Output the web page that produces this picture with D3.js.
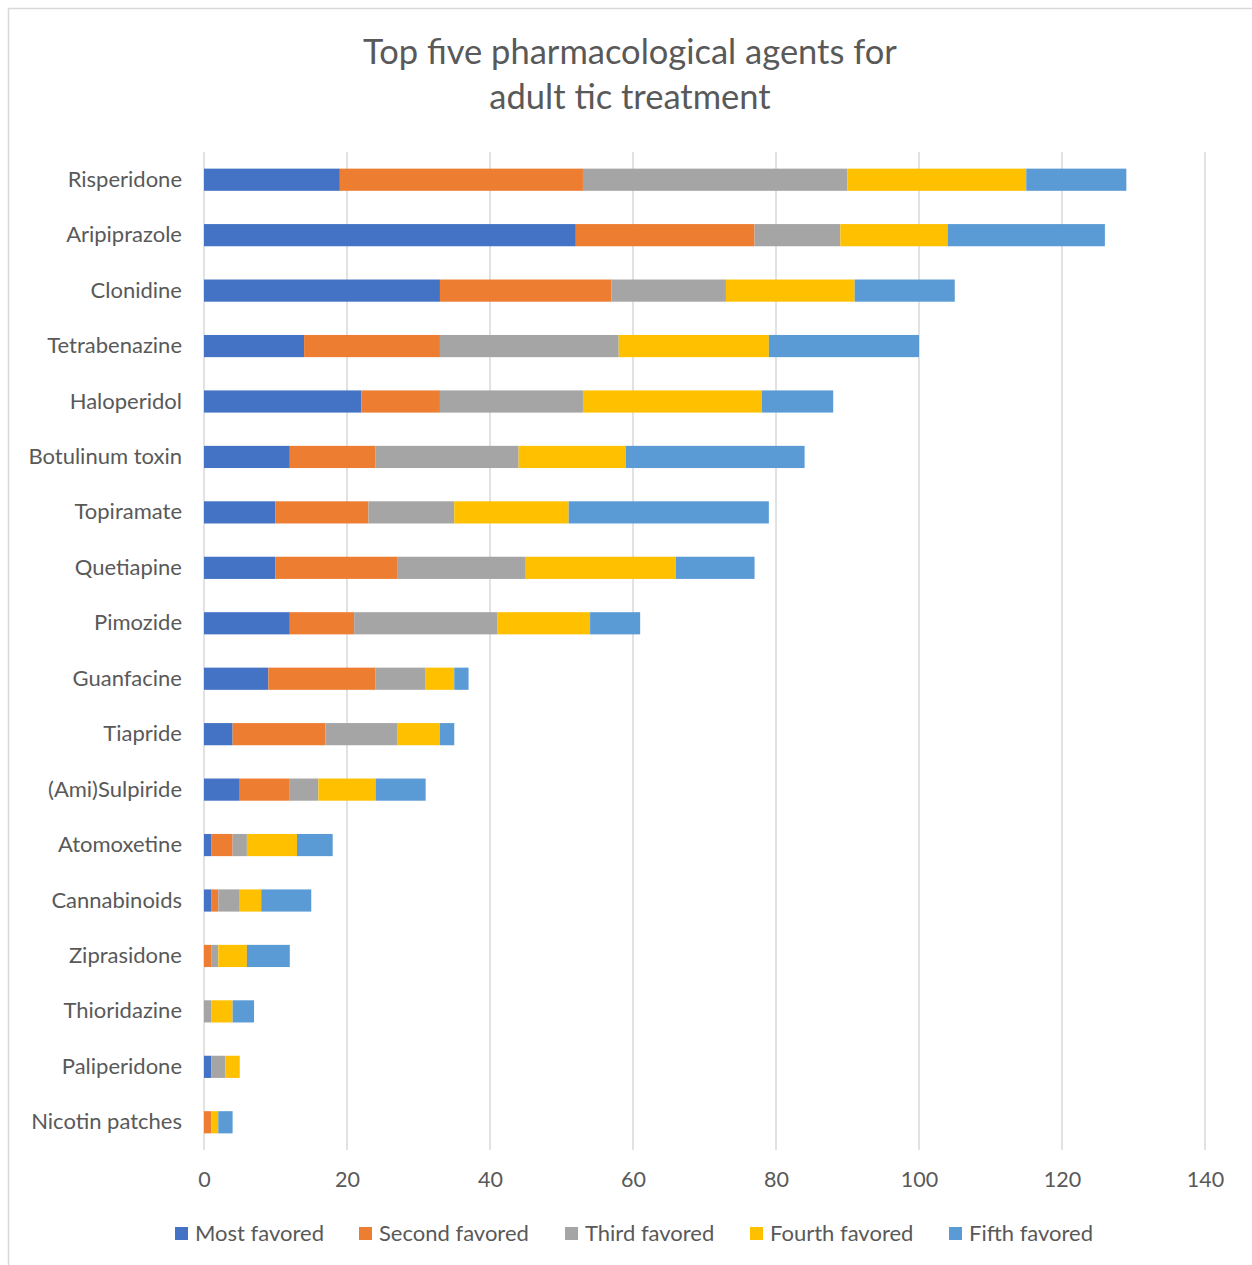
<!DOCTYPE html>
<html>
<head>
<meta charset="utf-8">
<script src="https://cdn.jsdelivr.net/npm/d3@7"></script>
<style>
  html, body { margin: 0; padding: 0; background: #fff; }
  svg { display: block; }
</style>
</head>
<body>
<svg id="chart" width="1252" height="1265"></svg>
<script>
const categories = ["Risperidone","Aripiprazole","Clonidine","Tetrabenazine","Haloperidol","Botulinum toxin","Topiramate","Quetiapine","Pimozide","Guanfacine","Tiapride","(Ami)Sulpiride","Atomoxetine","Cannabinoids","Ziprasidone","Thioridazine","Paliperidone","Nicotin patches"];
const seriesNames = ["Most favored","Second favored","Third favored","Fourth favored","Fifth favored"];
const mostFavored   = [19,52,33,14,22,12,10,10,12, 9, 4,5,1,1,0,0,1,0];
const secondFavored = [34,25,24,19,11,12,13,17, 9,15,13,7,3,1,1,0,0,1];
const thirdFavored  = [37,12,16,25,20,20,12,18,20, 7,10,4,2,3,1,1,2,0];
const fourthFavored = [25,15,18,21,25,15,16,21,13, 4, 6,8,7,3,4,3,2,1];
const fifthFavored  = [14,22,14,21,10,25,28,11, 7, 2, 2,7,5,7,6,3,0,2];
const xTicks = [0,20,40,60,80,100,120,140];
const colors = ["#4472C4","#ED7D31","#A5A5A5","#FFC000","#5B9BD5"];

(function () {
const seriesValues = [mostFavored, secondFavored, thirdFavored, fourthFavored, fifthFavored];
const table = categories.map((c, i) => {
  const row = { name: c };
  seriesNames.forEach((s, j) => row[s] = seriesValues[j][i]);
  return row;
});
const stacked = d3.stack().keys(seriesNames)(table);

const svg = d3.select("#chart");
const font = "Lato, 'Open Sans', sans-serif";

// outer chart border
svg.append("rect").attr("x", 8.5).attr("y", 8.5).attr("width", 1260).attr("height", 1270)
  .attr("fill", "none").attr("stroke", "#d9d9d9").attr("stroke-width", 1.5);

const pLeft = 204, pRight = 1205, pTop = 152, pBottom = 1150;
const x = d3.scaleLinear().domain([0, 140]).range([pLeft, pRight]);
const y = d3.scaleBand().domain(categories).range([pTop, pBottom]).paddingInner(0.6).paddingOuter(0.3);

// gridlines
svg.append("g").selectAll("line").data(xTicks).join("line")
  .attr("x1", d => x(d)).attr("x2", d => x(d))
  .attr("y1", pTop).attr("y2", pBottom)
  .attr("stroke", "#d9d9d9").attr("stroke-width", 1.5);

// bars
svg.append("g").selectAll("g").data(stacked).join("g")
  .attr("fill", (d, i) => colors[i])
  .selectAll("rect").data(d => d).join("rect")
  .attr("x", d => x(d[0]))
  .attr("width", d => x(d[1]) - x(d[0]))
  .attr("y", (d, i) => y(categories[i]))
  .attr("height", y.bandwidth());

// y axis labels
const yAxis = d3.axisLeft(y).tickSize(0).tickPadding(22);
const gy = svg.append("g").attr("transform", `translate(${pLeft},0)`).call(yAxis);
gy.select(".domain").remove();
gy.selectAll("text").attr("font-family", font).attr("font-size", 22).attr("fill", "#595959");

// x axis labels
const xAxis = d3.axisBottom(x).tickValues(xTicks).tickSize(0).tickPadding(22);
const gx = svg.append("g").attr("transform", `translate(0,${pBottom})`).call(xAxis);
gx.select(".domain").remove();
gx.selectAll("text").attr("font-family", font).attr("font-size", 21.5).attr("fill", "#595959");

// title
const title = svg.append("text").attr("text-anchor", "middle")
  .attr("font-family", font).attr("font-size", 34.5).attr("fill", "#595959");
title.append("tspan").attr("x", 630).attr("y", 64).text("Top five pharmacological agents for");
title.append("tspan").attr("x", 630).attr("y", 109).text("adult tic treatment");

// legend
const legendX = [175, 359, 565, 750, 949];
const lg = svg.append("g").selectAll("g").data(seriesNames).join("g")
  .attr("transform", (d, i) => `translate(${legendX[i]},1227)`);
lg.append("rect").attr("width", 13).attr("height", 13).attr("fill", (d, i) => colors[i]);
lg.append("text").attr("x", 20).attr("y", 14)
  .attr("font-family", font).attr("font-size", 22).attr("fill", "#595959").text(d => d);
})();
</script>
</body>
</html>
